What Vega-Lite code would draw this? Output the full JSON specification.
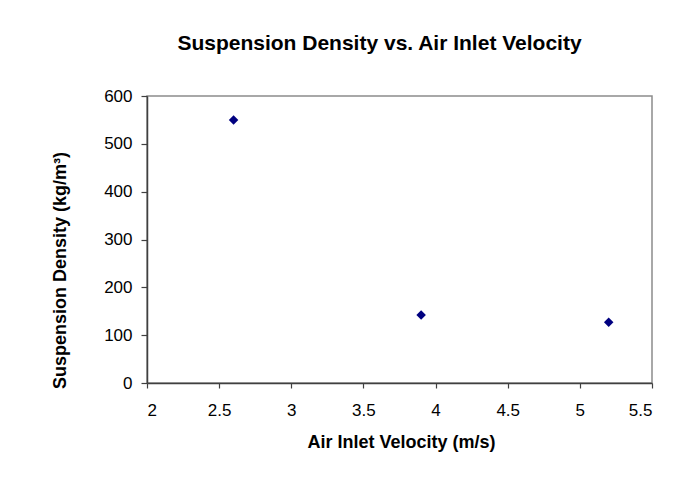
{
  "$schema": "https://vega.github.io/schema/vega-lite/v6.json",
  "autosize": "none",
  "width": 505,
  "height": 287,
  "padding": {"left": 147, "top": 96, "right": 35, "bottom": 114},
  "background": "white",
  "title": {
    "text": "Suspension Density vs. Air Inlet Velocity",
    "font": "Liberation Sans",
    "fontSize": 21,
    "fontWeight": "bold",
    "color": "#000000",
    "anchor": "middle",
    "baseline": "alphabetic",
    "dx": -20,
    "offset": 16
  },
  "data": {
    "values": [
      {"velocity": 2.6, "density": 550},
      {"velocity": 3.9, "density": 142},
      {"velocity": 5.2, "density": 127}
    ]
  },
  "mark": {"type": "point", "shape": "diamond", "filled": true, "size": 90, "color": "#000080", "opacity": 1},
  "encoding": {
    "x": {
      "field": "velocity",
      "type": "quantitative",
      "scale": {"domain": [2, 5.5], "nice": false, "zero": false},
      "axis": {
        "title": "Air Inlet Velocity (m/s)",
        "values": [2, 2.5, 3, 3.5, 4, 4.5, 5, 5.5],
        "format": "~g",
        "grid": false,
        "tickSize": 5,
        "labelPadding": 14,
        "titleX": 254,
        "titleY": 59,
        "titleBaseline": "middle",
        "titleAlign": "center"
      }
    },
    "y": {
      "field": "density",
      "type": "quantitative",
      "scale": {"domain": [0, 600], "nice": false},
      "axis": {
        "title": "Suspension Density (kg/m³)",
        "values": [0, 100, 200, 300, 400, 500, 600],
        "grid": false,
        "tickSize": 6,
        "labelPadding": 9,
        "titleX": -87,
        "titleY": 174,
        "titleAngle": -90,
        "titleBaseline": "middle",
        "titleAlign": "center"
      }
    }
  },
  "config": {
    "view": {"stroke": "#8c8c8c", "strokeWidth": 1.5},
    "axis": {
      "labelFont": "Liberation Sans",
      "labelFontSize": 17,
      "labelColor": "#000000",
      "titleFont": "Liberation Sans",
      "titleFontSize": 18,
      "titleFontWeight": "bold",
      "titleColor": "#000000",
      "domainColor": "#404040",
      "domainWidth": 1.5,
      "tickColor": "#404040",
      "tickWidth": 1.2
    }
  }
}
